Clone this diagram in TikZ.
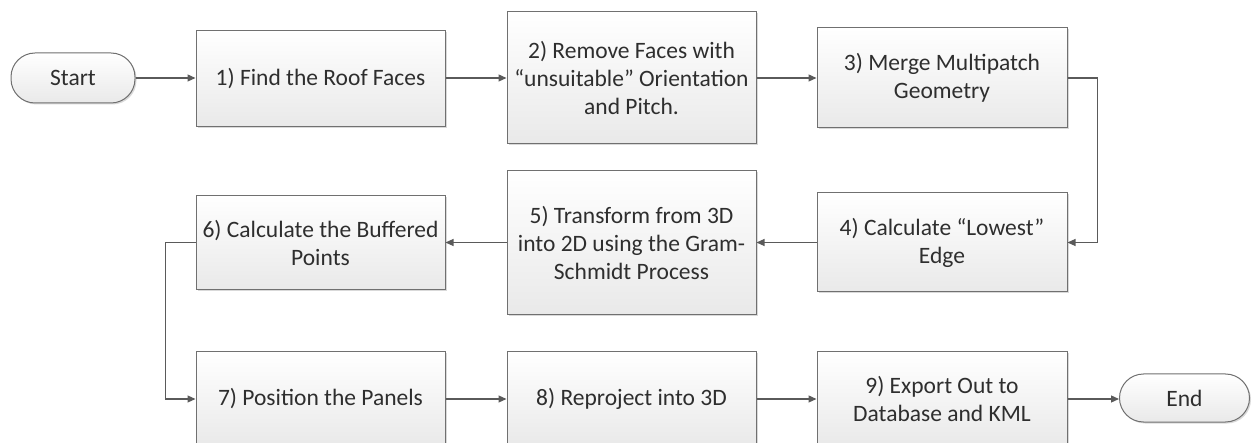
\documentclass[tikz,border=0pt]{standalone}
\usepackage{fontspec}
\setmainfont{Carlito}
\usetikzlibrary{arrows.meta,shadows}
\definecolor{txt}{HTML}{2E2E2E}
\definecolor{edge}{HTML}{707070}
\definecolor{wire}{HTML}{5A5A5A}
\definecolor{boxbot}{HTML}{E9E9E9}
\tikzset{
  boxstyle/.style={draw=edge, line width=1pt, top color=white, bottom color=boxbot,
    text=txt, align=center, font=\fontsize{23.5}{28}\selectfont,
    drop shadow={shadow xshift=1.5pt, shadow yshift=-1.5pt, fill=black!25, opacity=0.6},
    inner sep=1pt},
  procbox/.style={boxstyle, minimum width=249pt},
  termbox/.style={boxstyle, rounded corners=24pt, minimum height=50pt},
  flow/.style={draw=wire, line width=1.2pt, -{Triangle[length=8pt,width=7pt]}}
}
\begin{document}
\begin{tikzpicture}[x=1pt,y=-1pt]
\useasboundingbox (0,0) rectangle (1253,443);
\node[termbox, minimum width=124pt] (start) at (73,78) {Start};
\node[procbox, minimum height=96pt] (b1) at (320.5,78.5) {1) Find the Roof Faces};
\node[procbox, minimum height=132pt] (b2) at (631.5,78) {2) Remove Faces with\\ \char"201C unsuitable\char"201D{} Orientation\\ and Pitch.};
\node[procbox, minimum height=100pt, minimum width=250pt] (b3) at (942,78) {3) Merge Multipatch\\ Geometry};
\node[procbox, minimum height=99pt, minimum width=250pt] (b4) at (942,242.5) {4) Calculate \char"201C Lowest\char"201D\\ Edge};
\node[procbox, minimum height=144pt] (b5) at (631.5,242.5) {5) Transform from 3D\\ into 2D using the Gram-\\ Schmidt Process};
\node[procbox, minimum height=94pt] (b6) at (320.5,242.5) {6) Calculate the Buffered\\ Points};
\node[procbox, minimum height=94pt] (b7) at (320.5,399) {7) Position the Panels};
\node[procbox, minimum height=94pt] (b8) at (631.5,399) {8) Reproject into 3D};
\node[procbox, minimum height=94pt, minimum width=250pt] (b9) at (942,399) {9) Export Out to\\ Database and KML};
\node[termbox, minimum width=130pt, minimum height=48pt] (end) at (1184.5,398) {End};
\draw[flow] (start.east) -- (b1.west |- start.east);
\draw[flow] (b1.east |- start.east) -- (b2.west |- start.east);
\draw[flow] (b2.east) -- (b3.west);
\draw[flow] (b3.east) -- ++(30,0) |- (b4.east);
\draw[flow] (b4.west) -- (b5.east);
\draw[flow] (b5.west) -- (b6.east);
\draw[flow] (b6.west) -- ++(-30,0) |- (b7.west);
\draw[flow] (b7.east) -- (b8.west);
\draw[flow] (b8.east) -- (b9.west);
\draw[flow] (b9.east) -- (end.west |- b9.east);
\end{tikzpicture}
\end{document}
